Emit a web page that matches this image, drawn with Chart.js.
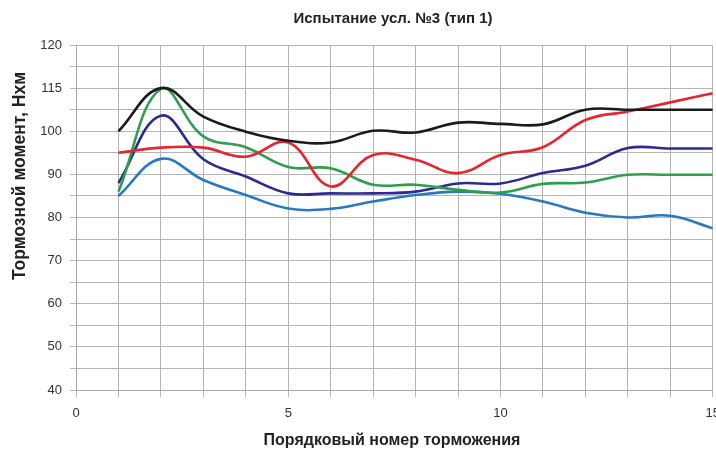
<!DOCTYPE html>
<html>
<head>
<meta charset="utf-8">
<script src="https://cdn.jsdelivr.net/npm/chart.js@4/dist/chart.umd.min.js"></script>
<style>
  html, body { margin: 0; padding: 0; background: #fff; overflow: hidden; }
  #wrap { width: 729px; height: 450px; }
</style>
</head>
<body>
<div id="wrap"><canvas id="c" width="729" height="450"></canvas></div>
<script>
const chartTitle = 'Испытание усл. №3 (тип 1)';
const xTitle = 'Порядковый номер торможения';
const yTitle = 'Тормозной момент, Нхм';

const brakingNumbers = [1, 2, 3, 4, 5, 6, 7, 8, 9, 10, 11, 12, 13, 14, 15];
const seriesBlack     = [100, 110, 103.4, 99.9, 97.8, 97.4, 100.1, 99.7, 102, 101.7, 101.6, 105, 105, 105, 105];
const seriesRed       = [95, 96.2, 96.2, 94.1, 97.4, 87.2, 94.5, 93.4, 90.3, 94.5, 96.3, 102.6, 104.6, 106.7, 108.8];
const seriesGreen     = [86, 109.8, 98.8, 96.3, 91.7, 91.4, 87.6, 87.6, 86.4, 85.8, 87.8, 88.1, 89.9, 89.9, 89.9];
const seriesNavy      = [88, 103.6, 93.5, 89.5, 85.6, 85.6, 85.6, 86, 87.9, 87.9, 90.3, 92, 96.1, 96, 96];
const seriesLightBlue = [85, 93.6, 88.7, 85.2, 82.1, 82, 83.7, 85.2, 86, 85.5, 83.7, 81.1, 80, 80.4, 77.5];

const xTickValues = [0, 5, 10, 15];
const yTickValues = [40, 50, 60, 70, 80, 90, 100, 110, 120];
const yTickLabels = ['40', '50', '60', '70', '80', '90', '100', '115', '120'];

function pts(arr) { return brakingNumbers.map((x, i) => ({ x: x, y: arr[i] })); }

const lineStyle = { borderWidth: 2.6, pointRadius: 0, tension: 0.4, fill: false };

const textPlugin = {
  id: 'texts',
  afterDraw(chart) {
    const ctx = chart.ctx;
    ctx.save();
    ctx.fillStyle = '#222';
    ctx.textAlign = 'center';
    ctx.textBaseline = 'middle';
    ctx.font = 'bold 15px "Liberation Sans"';
    ctx.fillText(chartTitle, 393, 19);
    ctx.font = 'bold 16px "Liberation Sans"';
    ctx.fillText(xTitle, 392, 441);
    ctx.translate(20, 176);
    ctx.rotate(-Math.PI / 2);
    ctx.font = 'bold 17.5px "Liberation Sans"';
    ctx.fillText(yTitle, 0, 0);
    ctx.restore();
  }
};

new Chart(document.getElementById('c'), {
  type: 'line',
  data: {
    datasets: [
      Object.assign({ label: 'black', data: pts(seriesBlack), borderColor: '#1b1b1b' }, lineStyle),
      Object.assign({ label: 'red', data: pts(seriesRed), borderColor: '#e52530' }, lineStyle),
      Object.assign({ label: 'green', data: pts(seriesGreen), borderColor: '#2f9e4d' }, lineStyle),
      Object.assign({ label: 'navy', data: pts(seriesNavy), borderColor: '#2c2b8e' }, lineStyle),
      Object.assign({ label: 'lightblue', data: pts(seriesLightBlue), borderColor: '#2878c2' }, lineStyle)
    ]
  },
  plugins: [textPlugin],
  options: {
    responsive: false,
    animation: false,
    layout: { padding: { left: 0, right: 12, top: 45, bottom: 0 } },
    plugins: {
      legend: { display: false },
      tooltip: { enabled: false },
      title: { display: false }
    },
    scales: {
      x: {
        type: 'linear',
        min: 0, max: 15,
        afterFit: (s) => { s.height = 60; },
        border: { color: '#a8a8a8', width: 1 },
        grid: { color: '#b5b5b5', lineWidth: 1, tickLength: 7, drawTicks: true },
        ticks: {
          stepSize: 1,
          autoSkip: false,
          maxRotation: 0,
          color: '#333',
          padding: 9,
          font: { family: 'Liberation Sans', size: 13 },
          callback: (v) => xTickValues.includes(v) ? String(v) : ''
        }
      },
      y: {
        type: 'linear',
        min: 40, max: 120,
        afterFit: (s) => { s.width = 76; },
        border: { color: '#a8a8a8', width: 1 },
        grid: { color: '#b5b5b5', lineWidth: 1, tickLength: 6, drawTicks: true },
        ticks: {
          stepSize: 5,
          autoSkip: false,
          color: '#333',
          padding: 8,
          font: { family: 'Liberation Sans', size: 13 },
          callback: (v) => { const i = yTickValues.indexOf(v); return i >= 0 ? yTickLabels[i] : ''; }
        }
      }
    }
  }
});
</script>
</body>
</html>
